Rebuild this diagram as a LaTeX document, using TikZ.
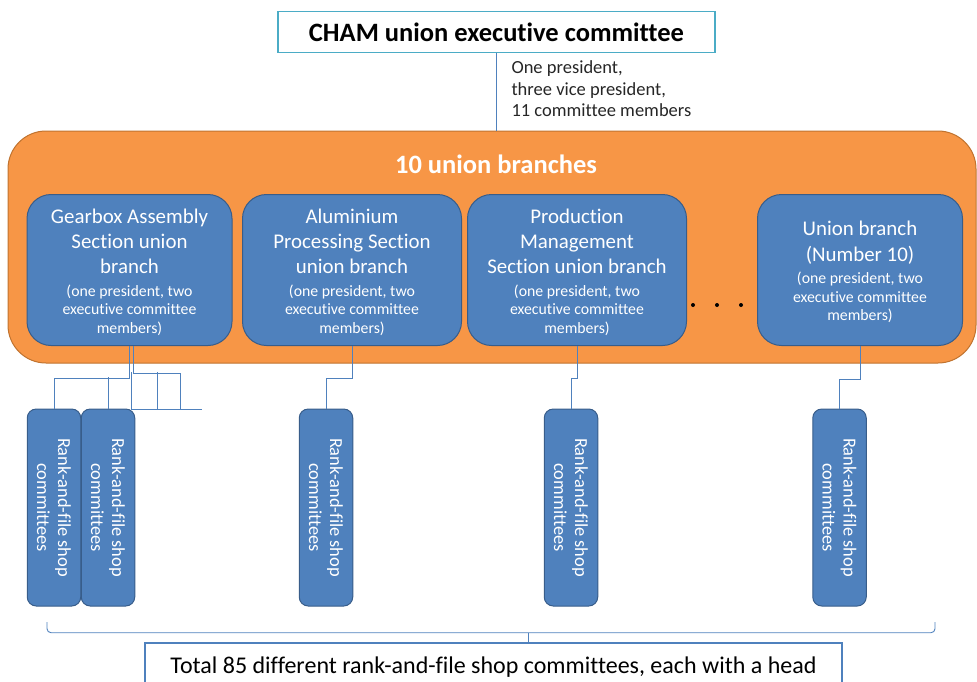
\documentclass[tikz,border=0pt]{standalone}
\usepackage{fontspec}
\setmainfont{Carlito}[Ligatures=NoCommon]
\usepackage{tikz}
\usetikzlibrary{positioning}

\definecolor{branchblue}{HTML}{4F81BD}
\definecolor{branchedge}{HTML}{385D8A}
\definecolor{unionorange}{HTML}{F79646}
\definecolor{unionedge}{HTML}{C0732F}
\definecolor{topedge}{HTML}{4BACC6}
\definecolor{linkblue}{HTML}{4F81BD}

% smaller lines inside a branch box
\newcommand{\members}{\fontsize{15.8}{18.5}\selectfont}
% taller first line pushes the text a bit down in its box
\newcommand{\lift}{\rule{0pt}{19pt}}

\begin{document}
\begin{tikzpicture}
          [
            x=1pt, y=-1pt,
            top/.style={draw=topedge, line width=1.4pt, fill=white, minimum width=437pt, minimum height=40.5pt,
              font=\fontsize{26.5}{32}\selectfont\bfseries},
            branch/.style={draw=branchedge, line width=1pt, fill=branchblue, rounded corners=24pt,
              minimum height=151pt, inner sep=0pt, text=white, align=center,
              font=\fontsize{20.9}{25}\selectfont},
            shop/.style={draw=branchedge, line width=1pt, fill=branchblue, rounded corners=9pt, rotate=-90,
              minimum width=197pt, minimum height=53.5pt, inner sep=0pt, text=white, align=center,
              font=\fontsize{18.4}{21}\selectfont},
            link/.style={draw=linkblue, line width=0.9pt}
          ]
          \useasboundingbox (0,0) rectangle (977,681);
          % executive committee
          \node [top] (cham) at (496.5,32) {CHAM union executive committee};
          \node [anchor=west, align=left, text=black!85, font=\fontsize{18.5}{21.5}\selectfont] (chamnote) at (508,89)
            {One president,\\three vice president,\\11 committee members};
          % union branches
          \node [draw=unionedge, line width=1pt, fill=unionorange, rounded corners=38pt,
            minimum width=968pt, minimum height=232pt] (branches) at (492,247) {};
          \node [text=white, font=\fontsize{26.5}{32}\selectfont\bfseries] (brtitle) at (496,164) {10 union branches};
          \draw [link] (cham.south) -- (cham.south |- branches.north);
          \node [branch, minimum width=205pt] (br1) at (129.5,270)
            {\lift Gearbox Assembly\\Section union\\branch\\[-2pt]\members (one president, two\\[-6.5pt]\members executive committee\\[-6.5pt]\members members)};
          \node [branch, minimum width=219pt] (br2) at (352,270)
            {\lift Aluminium\\Processing Section\\union branch\\[-2pt]\members (one president, two\\[-6.5pt]\members executive committee\\[-6.5pt]\members members)};
          \node [branch, minimum width=219pt] (br3) at (577,270)
            {\lift Production\\Management\\Section union branch\\[-2pt]\members (one president, two\\[-6.5pt]\members executive committee\\[-6.5pt]\members members)};
          \node [branch, minimum width=205pt] (br4) at (860,270)
            {\lift Union branch\\[1pt](Number 10)\\[-3pt]\members (one president, two\\[-6.5pt]\members executive committee\\[-6.5pt]\members members)};
          % more branches
          \foreach \x in {693,717,741} {
              \fill [black] (\x,305) circle (2pt);
          }
          % shop committees
          \foreach \n/\x in {1/54,2/108,3/326,4/571,5/839.5} {
              \node [shop] (s\n) at (\x,507.5) {Rank-and-file shop\\committees};
          }
          % links down to the shops (rotated nodes: west is the top)
          \draw [link] (br1.south) -- ++(0,32.7) -| (s1.west);
          \draw [link] (s2.west) -- ++(0,-31.3);
          \draw [link] ([xshift=4pt]br1.south) -- ++(0,27) -- ++(47,0) -- ++(0,37);
          \draw [link] (131,372) -- (131,409) -- (202,409);
          \draw [link] (157.7,372) -- (157.7,409);
          \draw [link] (br2.south) -- ++(0,32) -| (s3.west);
          \draw [link] (br3.south) -- ++(0,32.7) -| (s4.west);
          \draw [link] (br4.south) -- ++(0,33.3) -| (s5.west);
          % total
          \node [draw=linkblue, line width=1.2pt, fill=white, minimum width=697pt, minimum height=48pt,
            font=\fontsize{24}{28}\selectfont] (total) at (493.5,667)
            {Total 85 different rank-and-file shop committees, each with a head};
          \coordinate (braceleft) at (47,622);
          \coordinate (braceright) at (935,622);
          \coordinate (bracetip) at (528,632.7);
          \draw [link, rounded corners=4pt] (braceleft) -- (47,632.7) -- (935,632.7) -- (braceright);
          \draw [link] (bracetip) -- (bracetip |- total.north);
        \end{tikzpicture}
\end{document}
